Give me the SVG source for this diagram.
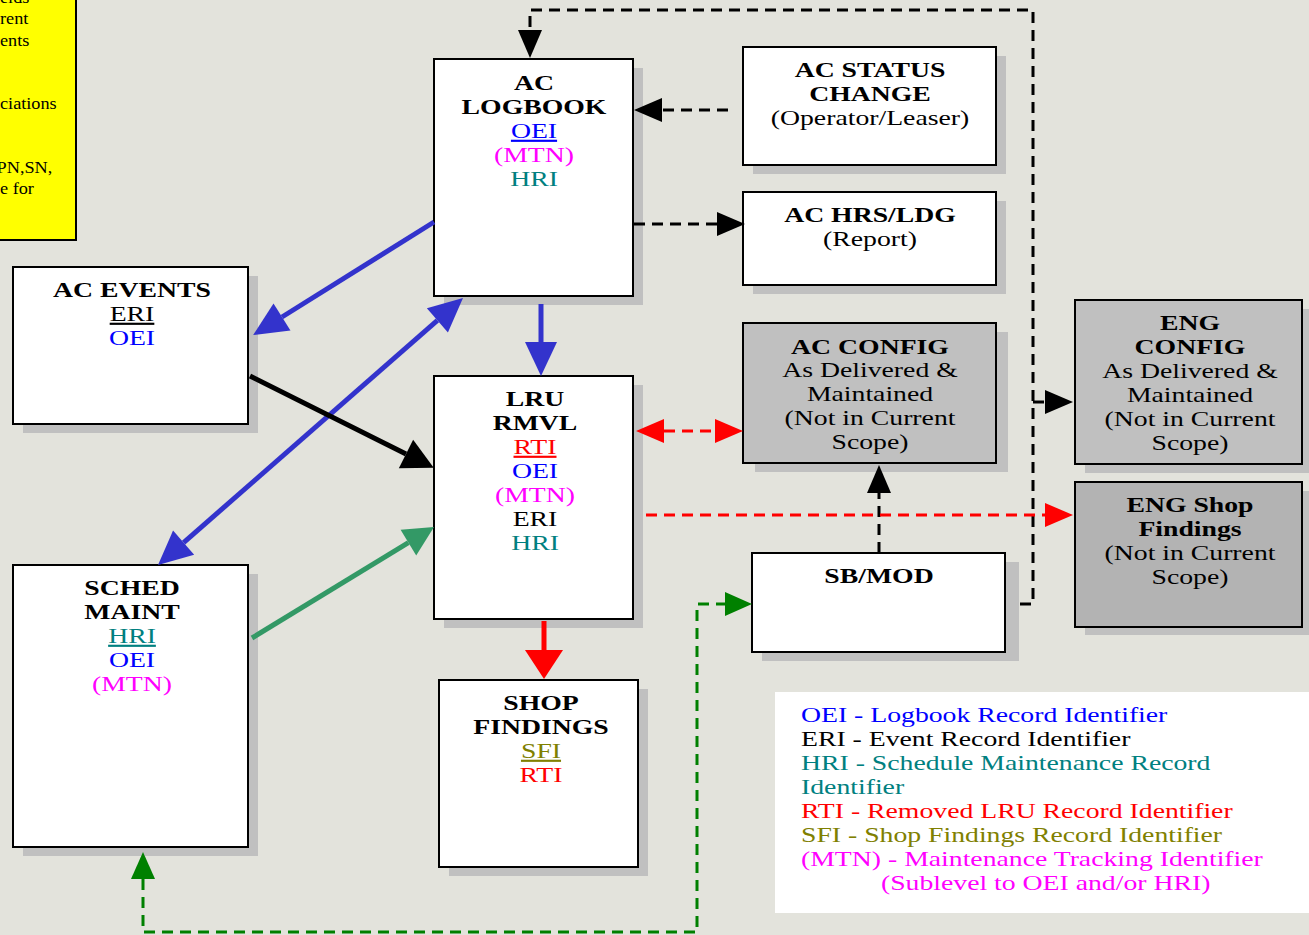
<svg xmlns="http://www.w3.org/2000/svg" width="1309" height="935" viewBox="0 0 1309 935">
<style>
  .bg{fill:#e3e3dc}
  .shadow{fill:#c0c0c0}
  .box{fill:#ffffff;stroke:#000000;stroke-width:2}
  .gbox{fill:#c0c0c0;stroke:#000000;stroke-width:2}
  .dbox{fill:#b3b3b3;stroke:#000000;stroke-width:2}
  text{font-family:"Liberation Serif","Times New Roman",serif;font-size:21.5px;text-anchor:middle}
  .b{font-weight:bold}
  .u{text-decoration:underline}
  .blue{fill:#0000ff}
  .mag{fill:#ff00ff}
  .teal{fill:#008080}
  .red{fill:#ff0000}
  .olive{fill:#808000}
  .blk{fill:#000000}
  .lg text{text-anchor:start}
  .yl text{text-anchor:start;font-size:16px}
  .solid{fill:none;stroke-width:5}
  .dash{fill:none;stroke-width:3;stroke-dasharray:11 7}
</style>
<defs>
  <marker id="mBlue" markerUnits="userSpaceOnUse" markerWidth="40" markerHeight="40" refX="0" refY="0" viewBox="0 -20 40 40" orient="auto-start-reverse" overflow="visible"><path d="M0,-16 L34,0 L0,16 z" fill="#3333cc"/></marker>
  <marker id="mBlack" markerUnits="userSpaceOnUse" markerWidth="40" markerHeight="40" refX="0" refY="0" viewBox="0 -20 40 40" orient="auto" overflow="visible"><path d="M0,-16 L31,0 L0,16 z" fill="#000000"/></marker>
  <marker id="mGreen" markerUnits="userSpaceOnUse" markerWidth="40" markerHeight="40" refX="0" refY="0" viewBox="0 -20 40 40" orient="auto" overflow="visible"><path d="M0,-15 L30,0 L0,15 z" fill="#339966"/></marker>
  <marker id="mRed" markerUnits="userSpaceOnUse" markerWidth="40" markerHeight="40" refX="0" refY="0" viewBox="0 -20 40 40" orient="auto" overflow="visible"><path d="M0,-19 L29,0 L0,19 z" fill="#ff0000"/></marker>
  <marker id="dBlack" markerUnits="userSpaceOnUse" markerWidth="40" markerHeight="40" refX="0" refY="0" viewBox="0 -20 40 40" orient="auto" overflow="visible"><path d="M0,-12 L28,0 L0,12 z" fill="#000000"/></marker>
  <marker id="dRed" markerUnits="userSpaceOnUse" markerWidth="40" markerHeight="40" refX="0" refY="0" viewBox="0 -20 40 40" orient="auto-start-reverse" overflow="visible"><path d="M0,-12 L28,0 L0,12 z" fill="#ff0000"/></marker>
  <marker id="dGreen" markerUnits="userSpaceOnUse" markerWidth="40" markerHeight="40" refX="0" refY="0" viewBox="0 -20 40 40" orient="auto-start-reverse" overflow="visible"><path d="M0,-12 L27,0 L0,12 z" fill="#008000"/></marker>
</defs>
<rect class="bg" x="0" y="0" width="1309" height="935"/>

<g id="note">
  <rect x="-10" y="-10" width="86" height="250" fill="#ffff00" stroke="#000000" stroke-width="2"/>
  <g class="yl" transform="scale(1.14,1)">
    <text x="0" y="3">elds</text>
    <text x="0" y="24">rent</text>
    <text x="0" y="46">ents</text>
    <text x="0" y="109">ciations</text>
    <text x="-3" y="173">PN,SN,</text>
    <text x="0" y="194">e for</text>
  </g>
</g>

<g id="legend">
  <rect x="775" y="692" width="540" height="221" fill="#ffffff"/>
  <g class="lg" transform="translate(801,0) scale(1.29,1)">
    <text x="0" y="722" class="blue">OEI - Logbook Record Identifier</text>
    <text x="0" y="746" class="blk">ERI - Event Record Identifier</text>
    <text x="0" y="770" class="teal">HRI - Schedule Maintenance Record</text>
    <text x="0" y="794" class="teal">Identifier</text>
    <text x="0" y="818" class="red">RTI - Removed LRU Record Identifier</text>
    <text x="0" y="842" class="olive">SFI - Shop Findings Record Identifier</text>
    <text x="0" y="866" class="mag">(MTN) - Maintenance Tracking Identifier</text>
    <text x="62" y="890" class="mag">(Sublevel to OEI and/or HRI)</text>
  </g>
</g>

<g id="ac-logbook">
  <rect class="shadow" x="444" y="68" width="199" height="237"/>
  <rect class="box" x="434" y="59" width="199" height="237"/>
  <g transform="translate(534,0) scale(1.29,1)">
    <text class="b" x="0" y="90">AC</text>
    <text class="b" x="0" y="114">LOGBOOK</text>
    <text class="blue u" x="0" y="138">OEI</text>
    <text class="mag" x="0" y="162">(MTN)</text>
    <text class="teal" x="0" y="186">HRI</text>
  </g>
</g>

<g id="ac-status-change">
  <rect class="shadow" x="753" y="56" width="253" height="118"/>
  <rect class="box" x="743" y="47" width="253" height="118"/>
  <g transform="translate(870,0) scale(1.29,1)">
    <text class="b" x="0" y="77">AC STATUS</text>
    <text class="b" x="0" y="101">CHANGE</text>
    <text x="0" y="125">(Operator/Leaser)</text>
  </g>
</g>

<g id="ac-hrs-ldg">
  <rect class="shadow" x="753" y="201" width="253" height="93"/>
  <rect class="box" x="743" y="192" width="253" height="93"/>
  <g transform="translate(870,0) scale(1.29,1)">
    <text class="b" x="0" y="222">AC HRS/LDG</text>
    <text x="0" y="246">(Report)</text>
  </g>
</g>

<g id="ac-events">
  <rect class="shadow" x="23" y="276" width="235" height="157"/>
  <rect class="box" x="13" y="267" width="235" height="157"/>
  <g transform="translate(132,0) scale(1.29,1)">
    <text class="b" x="0" y="297">AC EVENTS</text>
    <text class="blk u" x="0" y="321">ERI</text>
    <text class="blue" x="0" y="345">OEI</text>
  </g>
</g>

<g id="lru-rmvl">
  <rect class="shadow" x="444" y="385" width="199" height="243"/>
  <rect class="box" x="434" y="376" width="199" height="243"/>
  <g transform="translate(535,0) scale(1.29,1)">
    <text class="b" x="0" y="406">LRU</text>
    <text class="b" x="0" y="430">RMVL</text>
    <text class="red u" x="0" y="454">RTI</text>
    <text class="blue" x="0" y="478">OEI</text>
    <text class="mag" x="0" y="502">(MTN)</text>
    <text class="blk" x="0" y="526">ERI</text>
    <text class="teal" x="0" y="550">HRI</text>
  </g>
</g>

<g id="sched-maint">
  <rect class="shadow" x="23" y="574" width="235" height="282"/>
  <rect class="box" x="13" y="565" width="235" height="282"/>
  <g transform="translate(132,0) scale(1.29,1)">
    <text class="b" x="0" y="595">SCHED</text>
    <text class="b" x="0" y="619">MAINT</text>
    <text class="teal u" x="0" y="643">HRI</text>
    <text class="blue" x="0" y="667">OEI</text>
    <text class="mag" x="0" y="691">(MTN)</text>
  </g>
</g>

<g id="shop-findings">
  <rect class="shadow" x="449" y="689" width="199" height="187"/>
  <rect class="box" x="439" y="680" width="199" height="187"/>
  <g transform="translate(541,0) scale(1.29,1)">
    <text class="b" x="0" y="710">SHOP</text>
    <text class="b" x="0" y="734">FINDINGS</text>
    <text class="olive u" x="0" y="758">SFI</text>
    <text class="red" x="0" y="782">RTI</text>
  </g>
</g>

<g id="ac-config">
  <rect class="shadow" x="755" y="332" width="253" height="140"/>
  <rect class="gbox" x="743" y="323" width="253" height="140"/>
  <g transform="translate(870,0) scale(1.29,1)">
    <text class="b" x="0" y="354">AC CONFIG</text>
    <text x="0" y="377">As Delivered &amp;</text>
    <text x="0" y="401">Maintained</text>
    <text x="0" y="425">(Not in Current</text>
    <text x="0" y="449">Scope)</text>
  </g>
</g>

<g id="eng-config">
  <rect class="shadow" x="1085" y="309" width="227" height="164"/>
  <rect class="gbox" x="1075" y="300" width="227" height="164"/>
  <g transform="translate(1190,0) scale(1.29,1)">
    <text class="b" x="0" y="330">ENG</text>
    <text class="b" x="0" y="354">CONFIG</text>
    <text x="0" y="378">As Delivered &amp;</text>
    <text x="0" y="402">Maintained</text>
    <text x="0" y="426">(Not in Current</text>
    <text x="0" y="450">Scope)</text>
  </g>
</g>

<g id="eng-shop-findings">
  <rect class="shadow" x="1085" y="491" width="227" height="144"/>
  <rect class="dbox" x="1075" y="482" width="227" height="145"/>
  <g transform="translate(1190,0) scale(1.29,1)">
    <text class="b" x="0" y="512">ENG Shop</text>
    <text class="b" x="0" y="536">Findings</text>
    <text x="0" y="560">(Not in Current</text>
    <text x="0" y="584">Scope)</text>
  </g>
</g>

<g id="sb-mod">
  <rect class="shadow" x="762" y="562" width="257" height="99"/>
  <rect class="box" x="752" y="553" width="253" height="99"/>
  <g transform="translate(879,0) scale(1.29,1)">
    <text class="b" x="0" y="583">SB/MOD</text>
  </g>
</g>

<g id="connectors">
  <!-- solid -->
  <line class="solid" stroke="#3333cc" x1="434" y1="222" x2="282" y2="317" marker-end="url(#mBlue)"/>
  <line class="solid" stroke="#3333cc" x1="541" y1="304" x2="541" y2="342" marker-end="url(#mBlue)"/>
  <line class="solid" stroke="#3333cc" x1="437.4" y1="320.4" x2="183.6" y2="542.6" marker-start="url(#mBlue)" marker-end="url(#mBlue)"/>
  <line class="solid" stroke="#000000" x1="250" y1="376" x2="406" y2="454" marker-end="url(#mBlack)"/>
  <line class="solid" stroke="#339966" x1="252" y1="638" x2="408.4" y2="542.6" marker-end="url(#mGreen)"/>
  <line class="solid" stroke="#ff0000" stroke-width="7" x1="544" y1="621" x2="544" y2="650" marker-end="url(#mRed)"/>
  <!-- dashed -->
  <path class="dash" stroke="#000000" d="M1020,604 H1033 V10 H530 V30" marker-end="url(#dBlack)"/>
  <path class="dash" stroke="#000000" d="M1033,402 H1045" marker-end="url(#dBlack)"/>
  <path class="dash" stroke="#000000" d="M728,110 H662" marker-end="url(#dBlack)"/>
  <path class="dash" stroke="#000000" d="M634,224 H717" marker-end="url(#dBlack)"/>
  <path class="dash" stroke="#000000" d="M879,553 V493" marker-end="url(#dBlack)"/>
  <path class="dash" stroke="#ff0000" d="M664,431 H715" marker-start="url(#dRed)" marker-end="url(#dRed)"/>
  <path class="dash" stroke="#ff0000" d="M646,515 H1045" marker-end="url(#dRed)"/>
  <path class="dash" stroke="#008000" d="M143,879 V932 H697 V604 H725" marker-start="url(#dGreen)" marker-end="url(#dGreen)"/>
</g>
</svg>
